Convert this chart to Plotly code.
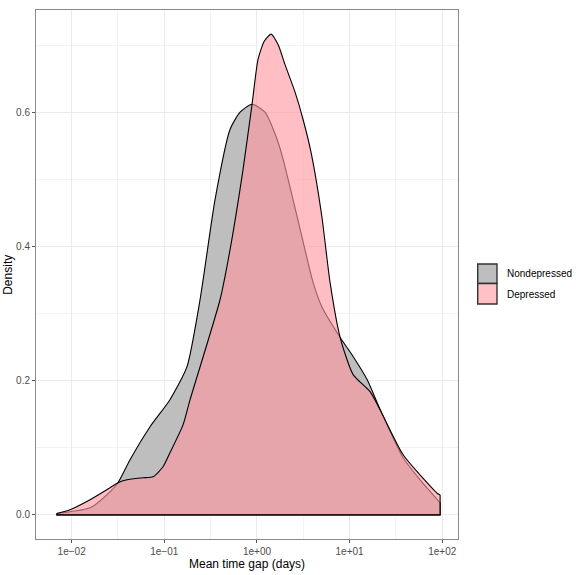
import numpy as np
import plotly.graph_objects as go

# ---- data (x as log10 of mean time gap in days) ----
nondep_log10_gap = [-2.16, -2.094, -1.802, -1.586, -1.500, -1.370, -1.154, -0.939,
                    -0.755, -0.614, -0.452, -0.290, -0.182, -0.053, 0.087,
                    0.217, 0.282, 0.433, 0.606, 0.70, 0.898, 1.038, 1.189, 1.329,
                    1.578, 1.761, 1.977]
nondep_density = [0.002, 0.003, 0.0104, 0.0343, 0.0478, 0.0821, 0.1313, 0.1716,
                  0.2209, 0.3209, 0.4701, 0.5746, 0.600, 0.6119, 0.600,
                  0.5597, 0.530, 0.4448, 0.3463, 0.310, 0.2642, 0.236, 0.2015, 0.157,
                  0.085, 0.052, 0.018]

dep_log10_gap = [-2.16, -2.018, -1.802, -1.586, -1.500, -1.403, -1.230, -1.122,
                 -1.014, -0.939, -0.798, -0.722, -0.398, -0.290, -0.150, -0.053,
                 0.012, 0.08, 0.152, 0.23, 0.30, 0.411, 0.50, 0.584, 0.70, 0.789,
                 0.898, 1.038, 1.221, 1.329, 1.578, 1.956, 1.977]
dep_density = [0.002, 0.0075, 0.0224, 0.0403, 0.0478, 0.0522, 0.0552, 0.0567,
               0.0716, 0.0925, 0.134, 0.1716, 0.3209, 0.3955, 0.5149, 0.6119,
               0.6791, 0.706, 0.7164, 0.700, 0.672, 0.630, 0.588, 0.540, 0.445, 0.3463,
               0.2642, 0.2090, 0.1836, 0.1567, 0.0896, 0.0310, 0.0299]

group_names = ["Nondepressed", "Depressed"]
x_tick_vals = [0.01, 0.1, 1, 10, 100]
x_tick_text = ["1e\u221202", "1e\u221201", "1e+00", "1e+01", "1e+02"]
y_tick_vals = [0.0, 0.2, 0.4, 0.6]
y_tick_text = ["0.0", "0.2", "0.4", "0.6"]

GRAY_FILL = "rgb(190,190,190)"
PINK_FILL = "rgba(255,150,160,0.62)"
FONT = "Liberation Sans, Arial, sans-serif"

fig = go.Figure()


def add_density(logx, dens, fill):
    x = np.power(10.0, np.array(logx))
    y = np.array(dens)
    fig.add_trace(go.Scatter(x=x, y=y, mode="lines", fill="tozeroy",
                             fillcolor=fill,
                             line=dict(color="black", width=1.1, shape="spline",
                                       smoothing=0.6),
                             hoverinfo="skip", showlegend=False))
    # baseline and end edges of the outline
    fig.add_trace(go.Scatter(x=[x[-1], x[-1], x[0], x[0]],
                             y=[y[-1], 0, 0, y[0]], mode="lines",
                             line=dict(color="black", width=1.1),
                             hoverinfo="skip", showlegend=False))


add_density(nondep_log10_gap, nondep_density, GRAY_FILL)
add_density(dep_log10_gap, dep_density, PINK_FILL)

grid_col = "#ebebeb"
fig.update_xaxes(type="log", range=[-2.385, 2.17],
                 tickvals=x_tick_vals, ticktext=x_tick_text,
                 ticks="outside", ticklen=3, tickcolor="#555", tickwidth=1,
                 tickfont=dict(family=FONT, size=10, color="#4d4d4d"),
                 showgrid=True, gridcolor=grid_col, gridwidth=1,
                 minor=dict(tickvals=[10 ** v for v in [-2.5, -1.5, -0.5, 0.5, 1.5]],
                            showgrid=True, gridcolor="#f3f3f3", gridwidth=0.6,
                            ticks=""),
                 showline=True, linecolor="#8a8a8a", linewidth=1, mirror=True,
                 zeroline=False)
fig.update_yaxes(range=[-0.036, 0.7523],
                 tickvals=y_tick_vals, ticktext=y_tick_text,
                 ticks="outside", ticklen=3, tickcolor="#555", tickwidth=1,
                 tickfont=dict(family=FONT, size=10, color="#4d4d4d"),
                 showgrid=True, gridcolor=grid_col, gridwidth=1,
                 minor=dict(tickvals=[0.1, 0.3, 0.5, 0.7], showgrid=True,
                            gridcolor="#f3f3f3", gridwidth=0.6, ticks=""),
                 showline=True, linecolor="#8a8a8a", linewidth=1, mirror=True,
                 zeroline=False)

# axis titles
fig.add_annotation(text="Mean time gap (days)", xref="paper", yref="paper",
                   x=0.5, y=-0.031, xanchor="center", yanchor="top",
                   showarrow=False, font=dict(family=FONT, size=12, color="black"))
fig.add_annotation(text="Density", xref="paper", yref="paper",
                   x=-0.068, y=0.5, xanchor="center", yanchor="middle", textangle=-90,
                   showarrow=False, font=dict(family=FONT, size=12, color="black"))

# manual legend (ggplot style keys)
key_x0, key_x1 = 1.0467, 1.0924
keys = [(0.5198, 0.4830, GRAY_FILL, 0.5028), (0.4830, 0.4442, "rgb(255,192,198)", 0.4631)]
for (ya, yb, col, ty), name in zip(keys, group_names):
    fig.add_shape(type="rect", xref="paper", yref="paper",
                  x0=key_x0, x1=key_x1, y0=yb, y1=ya,
                  fillcolor=col, line=dict(color="#333333", width=1.4))
    fig.add_annotation(text=name, xref="paper", yref="paper", x=1.111, y=ty,
                       xanchor="left", yanchor="middle", showarrow=False,
                       font=dict(family=FONT, size=10, color="black"))

fig.update_layout(width=576, height=575,
                  margin=dict(l=36, r=118, t=10, b=36, autoexpand=False),
                  paper_bgcolor="white", plot_bgcolor="white",
                  showlegend=False)

fig.write_html("out.html")
